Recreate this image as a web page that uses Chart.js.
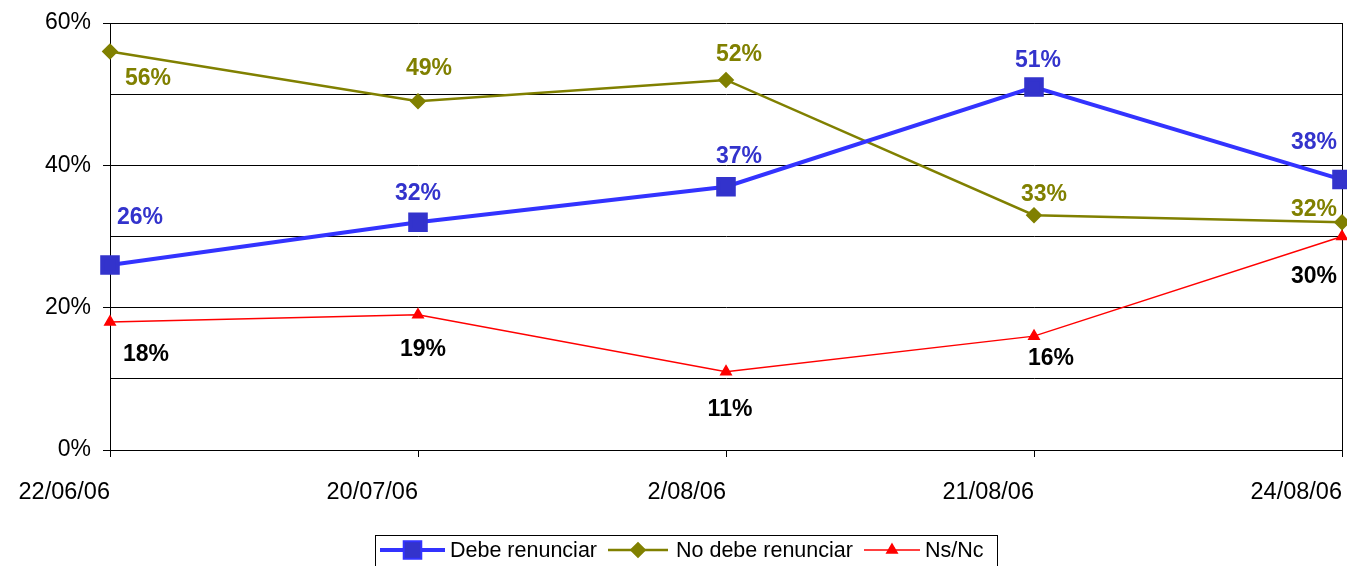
<!DOCTYPE html>
<html>
<head>
<meta charset="utf-8">
<script src="https://cdn.jsdelivr.net/npm/chart.js@4/dist/chart.umd.min.js"></script>
<style>
  html, body { margin: 0; padding: 0; background: #fff; }
  #wrap { width: 1347px; height: 566px; }
</style>
</head>
<body>
<div id="wrap"><canvas id="grafico" width="1347" height="566"></canvas></div>
<script>
// Datos del gráfico
const fechas = ['22/06/06', '20/07/06', '2/08/06', '21/08/06', '24/08/06'];
const debeRenunciar = [26, 32, 37, 51, 38];
const noDebeRenunciar = [56, 49, 52, 33, 32];
const nsNc = [18, 19, 11, 16, 30];
const ticksEje = [0, 20, 40, 60];

// Desplazamiento de las etiquetas respecto a cada punto (px)
const despDebe = [[30, -47], [0, -29], [13, -30], [4, -26], [-28, -37]];
const despNoDebe = [[38, 27], [11, -33], [13, -25], [10, -20], [-28, -13]];
const despNs = [[36, 33], [5, 35], [4, 38], [17, 23], [-28, 40]];

const fuente = "'Liberation Sans', Arial, sans-serif";

// Etiquetas de datos
const etiquetasPlugin = {
    id: 'etiquetas',
    afterDatasetsDraw(chart) {
        const ctx = chart.ctx;
        ctx.save();
        ctx.font = 'bold 23px ' + fuente;
        ctx.textAlign = 'center';
        ctx.textBaseline = 'middle';
        chart.data.datasets.forEach((ds, i) => {
            const meta = chart.getDatasetMeta(i);
            meta.data.forEach((pt, j) => {
                const d = ds.desp[j];
                ctx.fillStyle = ds.colorEtiqueta;
                ctx.fillText(ds.data[j] + '%', pt.x + d[0], pt.y + d[1]);
            });
        });
        ctx.restore();
    }
};

// Leyenda con recuadro
const leyendaPlugin = {
    id: 'leyenda',
    afterDraw(chart) {
        const ctx = chart.ctx;
        ctx.save();
        ctx.strokeStyle = '#000';
        ctx.lineWidth = 1;
        ctx.strokeRect(375.5, 535.5, 622, 40);
        const items = [
            { x1: 380, x2: 445, tx: 450 },
            { x1: 608, x2: 668, tx: 676 },
            { x1: 864, x2: 920, tx: 925 }
        ];
        const y = 550;
        chart.data.datasets.forEach((ds, i) => {
            const it = items[i];
            ctx.strokeStyle = ds.borderColor;
            ctx.lineWidth = ds.borderWidth;
            ctx.beginPath();
            ctx.moveTo(it.x1, y);
            ctx.lineTo(it.x2, y);
            ctx.stroke();
            Chart.helpers.drawPoint(ctx, {
                pointStyle: ds.pointStyle,
                radius: ds.pointRadius,
                borderWidth: 1
            }, (it.x1 + it.x2) / 2, y);
            ctx.fillStyle = ds.pointBackgroundColor;
            ctx.strokeStyle = ds.pointBorderColor;
            ctx.fill();
            ctx.fillStyle = '#000';
            ctx.font = '21.5px ' + fuente;
            ctx.textAlign = 'left';
            ctx.textBaseline = 'middle';
            ctx.fillText(ds.label, it.tx, y + 1);
        });
        ctx.restore();
    }
};

function crearGrafico() {
    const ctx = document.getElementById('grafico').getContext('2d');
    new Chart(ctx, {
        type: 'line',
        data: {
            labels: fechas,
            datasets: [{
                label: 'Debe renunciar',
                data: debeRenunciar,
                borderColor: '#3333FF',
                borderWidth: 4,
                pointStyle: 'rect',
                pointRadius: 11,
                pointBackgroundColor: '#3333CC',
                pointBorderColor: '#3333CC',
                colorEtiqueta: '#3333CC',
                desp: despDebe,
                order: 1
            }, {
                label: 'No debe renunciar',
                data: noDebeRenunciar,
                borderColor: '#808000',
                borderWidth: 2.5,
                pointStyle: 'rectRot',
                pointRadius: 6.5,
                pointBackgroundColor: '#808000',
                pointBorderColor: '#808000',
                colorEtiqueta: '#808000',
                desp: despNoDebe,
                order: 2
            }, {
                label: 'Ns/Nc',
                data: nsNc,
                borderColor: '#FF0000',
                borderWidth: 1.5,
                pointStyle: 'triangle',
                pointRadius: 6,
                pointBackgroundColor: '#FF0000',
                pointBorderColor: '#FF0000',
                colorEtiqueta: '#000000',
                desp: despNs,
                order: 3
            }]
        },
        options: {
            responsive: false,
            animation: false,
            clip: false,
            elements: { line: { tension: 0 }, point: { borderWidth: 1, hoverRadius: 6 } },
            layout: { autoPadding: false, padding: { left: 0, right: 5, top: 23, bottom: 0 } },
            plugins: {
                legend: { display: false },
                tooltip: { enabled: false }
            },
            scales: {
                x: {
                    offset: false,
                    afterFit(scale) {
                        scale.height = 116;
                        scale.paddingLeft = 0;
                        scale.paddingRight = 0;
                    },
                    grid: {
                        color: c => c.index === fechas.length - 1 ? '#000' : 'rgba(0,0,0,0)',
                        tickColor: '#000',
                        tickLength: 7,
                        lineWidth: 1
                    },
                    border: { color: '#000', width: 1 },
                    ticks: {
                        align: 'end',
                        padding: 21,
                        maxRotation: 0,
                        autoSkip: false,
                        color: '#000',
                        font: { family: fuente, size: 23.5 }
                    }
                },
                y: {
                    min: 0,
                    max: 60,
                    afterFit(scale) {
                        scale.width = 110;
                        scale.paddingTop = 0;
                        scale.paddingBottom = 0;
                    },
                    grid: {
                        color: '#000',
                        lineWidth: 1,
                        tickLength: 7,
                        tickColor: c => ticksEje.includes(c.tick.value) ? '#000' : 'rgba(0,0,0,0)'
                    },
                    border: { color: '#000', width: 1 },
                    ticks: {
                        stepSize: 10,
                        padding: 12,
                        color: '#000',
                        font: { family: fuente, size: 23 },
                        callback: v => ticksEje.includes(v) ? v + '%' : ''
                    }
                }
            }
        },
        plugins: [etiquetasPlugin, leyendaPlugin]
    });
}

document.addEventListener('DOMContentLoaded', crearGrafico);
</script>
</body>
</html>
